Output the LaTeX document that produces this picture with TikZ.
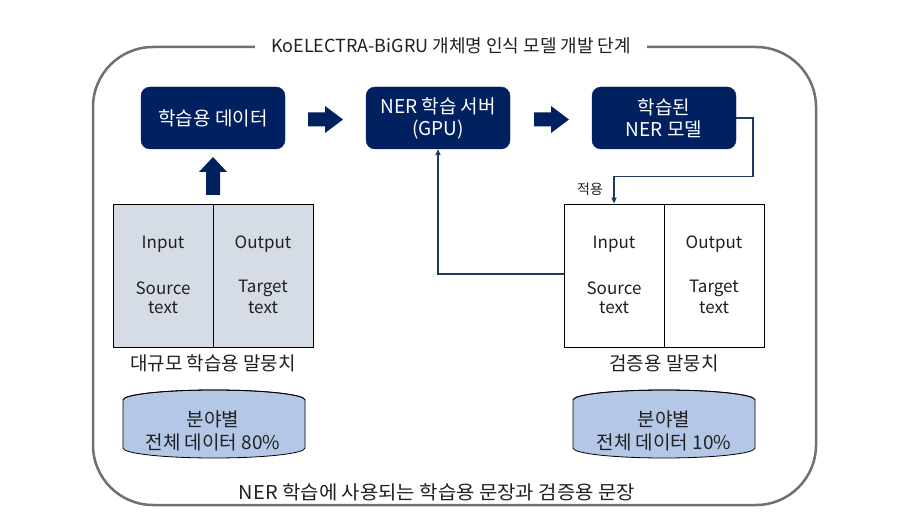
\documentclass[tikz,border=0pt]{standalone}
\usepackage{fontspec}
\setmainfont{Noto Sans CJK KR}
\usetikzlibrary{arrows.meta}
\definecolor{navy}{HTML}{002060}
\definecolor{lnavy}{HTML}{1F3864}
\definecolor{cellfill}{HTML}{D6DCE5}
\definecolor{cylfill}{HTML}{B4C7E7}
\definecolor{frame}{HTML}{707070}
\definecolor{txt}{HTML}{202020}
\begin{document}
\begin{tikzpicture}[x=1pt,y=-1pt,
  darkbox/.style={draw=navy,fill=navy,rounded corners=9pt,minimum width=144pt,minimum height=62pt,text=white,align=center,font=\fontsize{19}{22}\selectfont,inner sep=0pt},
  cell/.style={draw=black,line width=0.8pt,minimum width=100pt,minimum height=143pt,inner sep=0pt},
  celltxt/.style={text=txt,font=\fontsize{17}{20}\selectfont,inner sep=0pt,anchor=center},
  lbl/.style={text=txt,font=\fontsize{19}{22}\selectfont,inner sep=0pt},
  conn/.style={draw=lnavy,line width=1.5pt,-{Triangle[length=6pt,width=5pt]}},
  blockarrow/.style={fill=navy,draw=none},
  cyl/.style={draw=black,line width=0.8pt,fill=cylfill},
  cyltxt/.style={text=txt,align=center,font=\fontsize{19}{23}\selectfont,inner sep=0pt}
]
\useasboundingbox (0,0) rectangle (918,529);
\fill[white] (0,0) rectangle (918,529);
% outer frame
\draw[frame,line width=2.5pt,rounded corners=60pt] (93,47) rectangle (816,505);
\node[fill=white,inner xsep=16pt,inner ysep=2pt,text=txt,font=\fontsize{18}{21}\selectfont] (title) at (451,46) {KoELECTRA-BiGRU 개체명 인식 모델 개발 단계};
% top boxes
\node[darkbox] (b1) at (213,118) {학습용 데이터};
\node[darkbox] (b2) at (438,118) {NER 학습 서버\\(GPU)};
\node[darkbox] (b3) at (664,118) {학습된\\NER 모델};
% block arrows
\fill[blockarrow] (308,112.5) -- (325,112.5) -- (325,106) -- (343,119.5) -- (325,133) -- (325,126.5) -- (308,126.5) -- cycle;
\fill[blockarrow] (534,112.5) -- (551,112.5) -- (551,106) -- (569,119.5) -- (551,133) -- (551,126.5) -- (534,126.5) -- cycle;
\fill[blockarrow] (206,195) -- (206,172) -- (199,172) -- (213,157) -- (227,172) -- (220,172) -- (220,195) -- cycle;
% left table
\node[cell,fill=cellfill] (lin) at (163,275.5) {};
\node[cell,fill=cellfill] (lout) at (263,275.5) {};
\node[celltxt] (lin1) at (163,244) {Input};
\node[celltxt] (lin2) at (163,288) {Source};
\node[celltxt] (lin3) at (163,308) {text};
\node[celltxt] (lout1) at (263,244) {Output};
\node[celltxt] (lout2) at (263,288) {Target};
\node[celltxt] (lout3) at (263,308) {text};
\node[lbl] (llbl) at (213,363) {대규모 학습용 말뭉치};
% right table
\node[cell,fill=white] (rin) at (614,275.5) {};
\node[cell,fill=white] (rout) at (714,275.5) {};
\node[celltxt] (rin1) at (614,244) {Input};
\node[celltxt] (rin2) at (614,288) {Source};
\node[celltxt] (rin3) at (614,308) {text};
\node[celltxt] (rout1) at (714,244) {Output};
\node[celltxt] (rout2) at (714,288) {Target};
\node[celltxt] (rout3) at (714,308) {text};
\node[lbl] (rlbl) at (664,363) {검증용 말뭉치};
% connectors
\draw[conn] (b3.east) -- ++(17,0) |- ([yshift=27pt]rin.north) -- (rin.north);
\node[text=txt,font=\fontsize{14}{16}\selectfont,inner sep=0pt] (apply) at (590,189) {적용};
\draw[conn] ([yshift=1.5pt]rin.west) -| (b2.south);
% cylinders
\path[cyl] (123,400) -- (123,448) arc[start angle=180,end angle=360,x radius=91pt,y radius=10pt] -- (305,400) arc[start angle=0,end angle=180,x radius=91pt,y radius=10pt] -- cycle;
\draw[black,line width=0.8pt] (123,400) arc[start angle=180,end angle=360,x radius=91pt,y radius=-10pt];
\path[cyl] (573,400) -- (573,448) arc[start angle=180,end angle=360,x radius=91pt,y radius=10pt] -- (755,400) arc[start angle=0,end angle=180,x radius=91pt,y radius=10pt] -- cycle;
\draw[black,line width=0.8pt] (573,400) arc[start angle=180,end angle=360,x radius=91pt,y radius=-10pt];
\node[cyltxt] (c1) at (213,431) {분야별\\전체 데이터 80\%};
\node[cyltxt] (c2) at (664,431) {분야별\\전체 데이터 10\%};
\node[text=txt,font=\fontsize{19}{22}\selectfont,inner sep=0pt,xscale=1.05] (bot) at (437,492) {NER 학습에 사용되는 학습용 문장과 검증용 문장};
\end{tikzpicture}
\end{document}
